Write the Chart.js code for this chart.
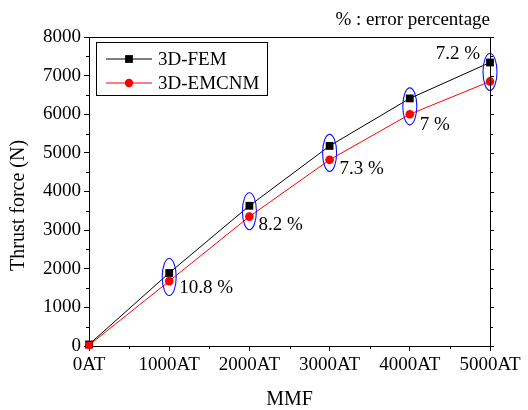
<!DOCTYPE html>
<html lang="en">
<head>
<meta charset="UTF-8">
<title>Thrust force vs MMF</title>
<script src="https://cdn.jsdelivr.net/npm/chart.js"></script>
<style>
  body { margin: 0; background: #fff; }
</style>
</head>
<body>
<canvas id="thrustChart" width="528" height="410"></canvas>
<script>
// values
const mmf = [0, 1000, 2000, 3000, 4000, 5000];              // AT
const femForce = [40, 1890, 3630, 5180, 6410, 7340];        // N
const emcnmForce = [20, 1680, 3350, 4820, 6000, 6850];      // N
const errorLabels = [null, '10.8 %', '8.2 %', '7.3 %', '7 %', '7.2 %'];
const noteText = '% : error percentage';
const yTitle = 'Thrust force (N)';

const FONT = "'Liberation Serif', 'Times New Roman', serif";
Chart.defaults.font.family = FONT;
Chart.defaults.color = '#000';
const f19 = { family: FONT, size: 19 };

// where each error text sits relative to its point pair (style only)
const labelPlace = [null,
  { ref: 1, dx: 10, dy: 7, align: 'left' },
  { ref: 1, dx: 9, dy: 8, align: 'left' },
  { ref: 1, dx: 10, dy: 9, align: 'left' },
  { ref: 1, dx: 10, dy: 11, align: 'left' },
  { ref: 0, dx: -10, dy: -8, align: 'right' }
];

function drawMarker(ctx, style, r, x, y) {
  ctx.beginPath();
  if (style === 'rect') {
    const s = Math.SQRT1_2 * r;
    ctx.rect(x - s, y - s, 2 * s, 2 * s);
  } else {
    ctx.arc(x, y, r, 0, Math.PI * 2);
  }
  ctx.fill();
}

const errorMarks = {
  id: 'errorMarks',
  afterDatasetsDraw(chart) {
    const { ctx, scales: { x, y } } = chart;
    ctx.save();
    ctx.strokeStyle = '#1010ff';
    ctx.lineWidth = 1.1;
    ctx.fillStyle = '#000';
    ctx.font = '19px ' + FONT;
    ctx.textBaseline = 'middle';
    mmf.forEach((v, i) => {
      if (!errorLabels[i]) return;
      const px = x.getPixelForValue(v);
      const pyTop = y.getPixelForValue(femForce[i]);
      const pyBot = y.getPixelForValue(emcnmForce[i]);
      ctx.beginPath();
      ctx.ellipse(px, (pyTop + pyBot) / 2, 7, 18.5, 0, 0, Math.PI * 2);
      ctx.stroke();
      const p = labelPlace[i];
      const refY = p.ref === 0 ? pyTop : pyBot;
      ctx.textAlign = p.align;
      ctx.fillText(errorLabels[i], px + p.dx, refY + p.dy);
    });
    ctx.restore();
  }
};

const frameAndLegend = {
  id: 'frameAndLegend',
  afterDraw(chart) {
    const { ctx, chartArea: a, scales: { x, y } } = chart;
    ctx.save();
    ctx.strokeStyle = '#000';
    ctx.lineWidth = 1;
    ctx.beginPath();
    // top and right side of the box
    ctx.moveTo(a.left, a.top + 0.5);
    ctx.lineTo(a.right + 1, a.top + 0.5);
    ctx.moveTo(Math.round(a.right) + 0.5, a.top);
    ctx.lineTo(Math.round(a.right) + 0.5, a.bottom);
    // right-side ticks, and minor ticks halfway between majors
    const yt = y.ticks.map(t => t.value);
    yt.forEach((v, k) => {
      const py = Math.round(y.getPixelForValue(v)) + 0.5;
      ctx.moveTo(a.right, py); ctx.lineTo(a.right + 4, py);
      if (k < yt.length - 1) {
        const pm = Math.round(y.getPixelForValue((v + yt[k + 1]) / 2)) + 0.5;
        ctx.moveTo(a.left - 3, pm); ctx.lineTo(a.left, pm);
        ctx.moveTo(a.right, pm); ctx.lineTo(a.right + 3, pm);
      }
    });
    const xt = x.ticks.map(t => t.value);
    for (let k = 0; k < xt.length - 1; k++) {
      const pm = Math.round(x.getPixelForValue((xt[k] + xt[k + 1]) / 2)) + 0.5;
      ctx.moveTo(pm, a.bottom); ctx.lineTo(pm, a.bottom + 3);
    }
    ctx.stroke();

    // legend box
    const lx = a.left + 7, ly = a.top + 5;
    ctx.strokeRect(lx + 0.5, ly + 0.5, 171, 53);
    ctx.font = '19px ' + FONT;
    ctx.textAlign = 'left';
    ctx.textBaseline = 'middle';
    chart.data.datasets.forEach((ds, i) => {
      const cy = ly + 17 + i * 24;
      ctx.strokeStyle = ds.borderColor;
      ctx.beginPath();
      ctx.moveTo(lx + 10, cy); ctx.lineTo(lx + 56, cy);
      ctx.stroke();
      ctx.fillStyle = ds.backgroundColor;
      drawMarker(ctx, ds.legendMarker, ds.legendMarker === 'rect' ? 5.5 : 4.2, lx + 33, cy);
      ctx.fillStyle = '#000';
      ctx.fillText(ds.label, lx + 62, cy + 1);
    });

    // note in top right corner
    ctx.textAlign = 'right';
    ctx.textBaseline = 'alphabetic';
    ctx.fillText(noteText, a.right, 25);

    // y axis title, sits a bit below the middle of the axis in the original
    ctx.translate(19, a.top + (a.bottom - a.top) * 0.545);
    ctx.rotate(-Math.PI / 2);
    ctx.font = '20px ' + FONT;
    ctx.textAlign = 'center';
    ctx.textBaseline = 'middle';
    ctx.fillText(yTitle, 0, 0);
    ctx.restore();
  }
};

new Chart(document.getElementById('thrustChart'), {
  type: 'line',
  data: {
    datasets: [
      {
        label: '3D-FEM',
        data: mmf.map((v, i) => ({ x: v, y: femForce[i] })),
        borderColor: '#000',
        backgroundColor: '#000',
        borderWidth: 1,
        pointStyle: 'rect',
        pointRadius: 5.5,
        pointBorderWidth: 0,
        legendMarker: 'rect',
        clip: false,
        order: 1
      },
      {
        label: '3D-EMCNM',
        data: mmf.map((v, i) => ({ x: v, y: emcnmForce[i] })),
        borderColor: '#ff0000',
        backgroundColor: '#ff0000',
        borderWidth: 1,
        pointStyle: mmf.map((v, i) => i === 0 ? 'rect' : 'circle'),
        pointRadius: mmf.map((v, i) => i === 0 ? 5 : 4.3),
        pointBorderWidth: 0,
        legendMarker: 'circle',
        clip: false,
        order: 0
      }
    ]
  },
  options: {
    responsive: false,
    animation: false,
    layout: { padding: { left: 6, right: 38, top: 37, bottom: 0 } },
    plugins: {
      legend: { display: false },
      tooltip: { enabled: false }
    },
    scales: {
      x: {
        type: 'linear',
        min: 0,
        max: 5000,
        ticks: {
          stepSize: 1000,
          autoSkip: false,
          maxRotation: 0,
          padding: 3,
          color: '#000',
          font: f19,
          callback: v => v + 'AT'
        },
        grid: { drawOnChartArea: false, color: '#000', tickLength: 5 },
        border: { color: '#000' },
        title: { display: true, text: 'MMF', color: '#000', font: { family: FONT, size: 20, lineHeight: 1 }, padding: 0 },
        afterFit(s) { s.height = 64; }
      },
      y: {
        min: 0,
        max: 8000,
        ticks: { stepSize: 1000, padding: 3, color: '#000', font: f19, callback: v => String(v) },
        grid: { drawOnChartArea: false, color: '#000', tickLength: 5 },
        border: { color: '#000' },
        title: { display: false },
        afterFit(s) { s.width = 89 - 6; }
      }
    }
  },
  plugins: [errorMarks, frameAndLegend]
});
</script>
</body>
</html>
